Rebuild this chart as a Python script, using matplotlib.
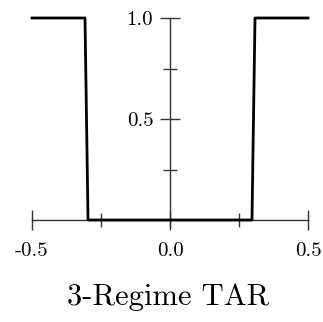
import numpy as np
import matplotlib.pyplot as plt
from matplotlib.ticker import FixedLocator

# step-like regime indicator
xs = [-0.5, -0.308, -0.297, 0.297, 0.308, 0.5]
ys = [1.0, 1.0, 0.0, 0.0, 1.0, 1.0]

xticks = [-0.5, 0.0, 0.5]
xlabels = ['-0.5', '0.0', '0.5']
xminor = [-0.25, 0.25]
yticks = [0.5, 1.0]
ylabels = ['0.5', '1.0']
yminor = [0.25, 0.75]
title = '3-Regime TAR'

plt.rcParams['font.family'] = ['cmr10', 'DejaVu Serif']
plt.rcParams['axes.unicode_minus'] = False

fig = plt.figure(figsize=(3.23, 3.22), dpi=100)
ax = fig.add_axes([32/323, (322-220)/322, 276/323, 202/322])

ax.plot(xs, ys, color='black', lw=2.0, clip_on=False, zorder=3)
ax.set_xlim(-0.5, 0.5)
ax.set_ylim(0, 1)

for s in ['top', 'right']:
    ax.spines[s].set_visible(False)
ax.spines['left'].set_position(('data', 0))
ax.spines['bottom'].set_position(('data', 0))
ax.spines['left'].set_bounds(-0.035, 1)
axcol = '#333333'
for s in ['left', 'bottom']:
    ax.spines[s].set_color(axcol)
    ax.spines[s].set_linewidth(1.0)

ax.set_xticks(xticks)
ax.set_xticklabels(xlabels)
ax.xaxis.set_minor_locator(FixedLocator(xminor))
ax.set_yticks(yticks)
ax.set_yticklabels(ylabels)
ax.yaxis.set_minor_locator(FixedLocator(yminor))
ax.tick_params(which='major', direction='inout', length=14, width=1.0,
               color=axcol, labelsize=15)
ax.tick_params(which='minor', direction='inout', length=10, width=1.0,
               color=axcol)
ax.tick_params(axis='y', which='major', pad=5)
ax.tick_params(axis='x', which='major', pad=9)
ax.patch.set_visible(False)

fig.text(0.52, 1 - 297/322, title, ha='center', va='center', fontsize=22)

fig.savefig('out.png', dpi=100)
